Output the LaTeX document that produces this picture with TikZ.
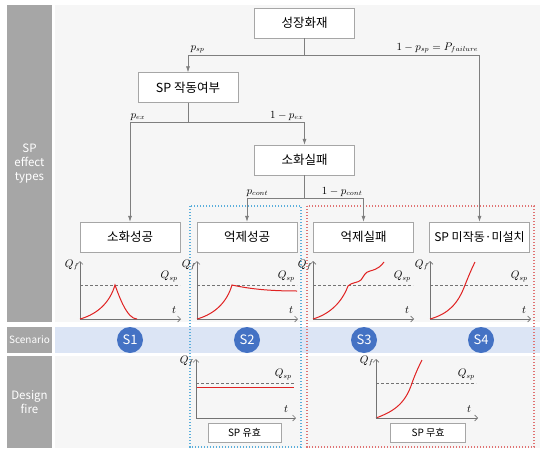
\documentclass[tikz,border=0pt]{standalone}
\usepackage{fontspec}
\newfontfamily\kr{Noto Sans CJK KR}
\usetikzlibrary{arrows.meta,positioning}
\definecolor{sidegray}{HTML}{A6A6A6}
\definecolor{panel}{HTML}{F6F6F6}
\definecolor{scenband}{HTML}{DCE5F5}
\definecolor{scenblue}{HTML}{4472C4}
\definecolor{firered}{HTML}{E02222}
\definecolor{okblue}{HTML}{5AAEDB}
\definecolor{ngred}{HTML}{E07373}
\definecolor{linkgray}{HTML}{7F7F7F}
\tikzset{
  evbox/.style={draw=gray!70, fill=white, minimum width=100pt, minimum height=30pt,
    inner sep=1pt, font=\kr\fontsize{12.5}{14}\selectfont},
  tagbox/.style={draw=gray!70, fill=white, minimum height=19pt, inner sep=1pt,
    font=\kr\fontsize{10}{12}\selectfont},
  link/.style={draw=linkgray, line width=0.6pt},
  arr/.style={link, -{Latex[length=6pt,width=4pt]}},
  prob/.style={inner sep=1.5pt, font=\fontsize{10.5}{12}\selectfont},
  axis/.style={draw=gray!90!black, line width=0.6pt, -{Straight Barb[length=3pt,width=6pt]}},
  qline/.style={draw=gray!90!black, dash pattern=on 3pt off 2pt, line width=0.5pt},
  curve/.style={draw=firered, line width=1pt},
  lbl/.style={inner sep=1pt, font=\fontsize{10.5}{12}\selectfont},
  scen/.style={circle, fill=scenblue, minimum size=26pt, inner sep=0pt, text=white,
    font=\kr\fontsize{13}{15}\selectfont},
  side/.style={fill=sidegray, text=white, minimum width=45pt, inner sep=0pt, align=center,
    font=\kr\fontsize{11.5}{14}\selectfont},
  zone/.style={line width=1.2pt, dash pattern=on 1.2pt off 1.8pt},
}
\begin{document}
\begin{tikzpicture}[x=1pt,y=-1pt]
  \useasboundingbox (0,0) rectangle (546,455);
  % panels
  \fill[panel] (55,5) rectangle (540,322);
  \fill[scenband] (55,327) rectangle (540,353);
  \fill[panel] (55,356) rectangle (540,448);
  \node[side, minimum height=317pt] (effect) at (29.5,163.5) {SP\\effect\\types};
  \node[side, minimum height=26pt, font=\kr\fontsize{10}{12}\selectfont] (scenario) at (29.5,340) {Scenario};
  \node[side, minimum height=92pt] (design) at (29.5,402) {Design\\fire};

  % scenarios
  \node[scen] (s1) at (130,340) {S1};
  \node[scen] (s2) at (247,340) {S2};
  \node[scen] (s3) at (364,340) {S3};
  \node[scen] (s4) at (481,340) {S4};

  % zones
  \draw[zone, okblue] (190,206) rectangle (301,447);
  \draw[zone, ngred] (307,206) rectangle (534,447);

  % event tree
  \node[evbox] (fire) at (304.5,23) {성장화재};
  \node[evbox] (spop) at (188,87.5) {SP 작동여부};
  \node[evbox] (exfail) at (304.5,160) {소화실패};
  \node[evbox] (exok) at (130,237) {소화성공};
  \node[evbox] (supok) at (247,237) {억제성공};
  \node[evbox] (supfail) at (363.5,237) {억제실패};
  \node[evbox, font=\kr\fontsize{12}{14}\selectfont] (nosp) at (479.5,237) {SP 미작동·미설치};

  \coordinate (j1) at (304.5,55);
  \draw[link] (fire) -- (j1);
  \draw[arr] (j1) -| (spop.north);
  \draw[arr] (j1) -| (nosp.north);
  \coordinate (j2) at (188,122);
  \draw[link] (spop) -- (j2);
  \draw[arr] (j2) -| (exok.north);
  \draw[arr] (j2) -| (exfail.north);
  \coordinate (j3) at (304.5,198);
  \draw[link] (exfail) -- (j3);
  \draw[arr] (j3) -| (supok.north);
  \draw[arr] (j3) -| (supfail.north);

  \node[prob, anchor=south west] (psp) at (189,55) {$p_{sp}$};
  \node[prob, anchor=south east] (pfail) at (480,55) {$1-p_{sp}=P_{failure}$};
  \node[prob, anchor=south west] (pex) at (129,122) {$p_{ex}$};
  \node[prob, anchor=south east] (pnex) at (305,122) {$1-p_{ex}$};
  \node[prob, anchor=south west] (pcont) at (245,198) {$p_{cont}$};
  \node[prob, anchor=south east] (pncont) at (364,198) {$1-p_{cont}$};

  % effect graphs
  \foreach \i/\ox in {1/80,2/197,3/313,4/430} {
    \draw[qline] (\ox,285) -- (\ox+100,285);
    \draw[axis] (\ox,319) -- (\ox,261);
    \draw[axis] (\ox,319) -- (\ox+101,319);
    \node[lbl, anchor=east] (qf\i) at (\ox,265) {$Q_f$};
    \node[lbl, anchor=south east] (qsp\i) at (\ox+99,283) {$Q_{sp}$};
    \node[lbl] (t\i) at (\ox+94,310) {$t$};
  }
  \draw[curve] (80,319) .. controls (98,314) and (110,302) .. (115,285)
    .. controls (119,296) and (127,319) .. (137,319);
  \draw[curve] (197,319) .. controls (215,314) and (227,302) .. (232,285)
    .. controls (250,289) and (270,291) .. (297,291);
  \draw[curve] (313,319) .. controls (330,314) and (342,302) .. (348,286)
    .. controls (352,282) and (358,283) .. (361,280)
    .. controls (364,276) and (365,272) .. (370,271)
    .. controls (378,269) and (381,266) .. (384,262);
  \draw[curve] (430,319) .. controls (448,314) and (458,304) .. (465,285)
    .. controls (469,275) and (472,268) .. (475,262);

  % design fire graphs
  \draw[qline] (196,383) -- (294,383);
  \draw[curve] (196,387) -- (294,387);
  \draw[axis] (196,418) -- (196,359);
  \draw[axis] (196,418) -- (296,418);
  \node[lbl, anchor=east] (qf5) at (195,361) {$Q_f$};
  \node[lbl, anchor=south east] (qsp5) at (293,381) {$Q_{sp}$};
  \node[lbl] (t5) at (286,409) {$t$};
  \node[tagbox, minimum width=73pt] (valid) at (244.5,432.5) {SP 유효};

  \draw[qline] (376,383) -- (476,383);
  \draw[curve] (376,418) .. controls (392,412) and (405,405) .. (412,383)
    .. controls (416,372) and (419,366) .. (422,360);
  \draw[axis] (376,418) -- (376,359);
  \draw[axis] (376,418) -- (478,418);
  \node[lbl, anchor=east] (qf6) at (375,361) {$Q_f$};
  \node[lbl, anchor=south east] (qsp6) at (476,381) {$Q_{sp}$};
  \node[lbl] (t6) at (469,409) {$t$};
  \node[tagbox, minimum width=75pt] (invalid) at (428,432.5) {SP 무효};
\end{tikzpicture}
\end{document}
